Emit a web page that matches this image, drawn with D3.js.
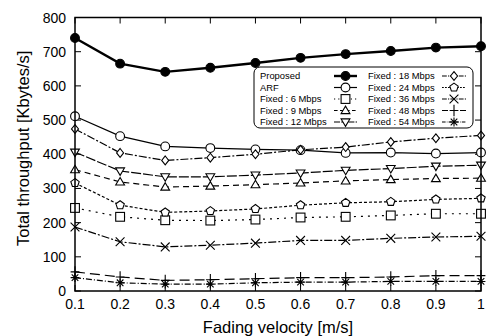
<!DOCTYPE html>
<html><head><meta charset="utf-8">
<script src="https://cdn.jsdelivr.net/npm/d3@7"></script>
<style>body{margin:0;background:#fff}svg{display:block}</style></head>
<body><svg id="c" width="488" height="336"></svg>
<script>
const velocity=[0.1,0.2,0.3,0.4,0.5,0.6,0.7,0.8,0.9,1.0];
const xTickLabels=["0.1","0.2","0.3","0.4","0.5","0.6","0.7","0.8","0.9","1"];
const yTicks=[0,100,200,300,400,500,600,700,800];
const seriesNames=["Proposed","ARF","Fixed : 6 Mbps","Fixed : 9 Mbps","Fixed : 12 Mbps","Fixed : 18 Mbps","Fixed : 24 Mbps","Fixed : 36 Mbps","Fixed : 48 Mbps","Fixed : 54 Mbps"];
const proposed=[740,665,641,653,667,682,693,702,712,716];
const arf=[511,453,423,418,414,412,404,405,402,405];
const fixed6=[243,217,207,206,209,215,217,221,226,226];
const fixed9=[355,319,304,307,311,316,322,326,329,330];
const fixed12=[406,351,334,334,339,345,353,358,365,368];
const fixed18=[474,404,382,390,400,413,421,436,447,455];
const fixed24=[316,251,230,234,240,251,258,261,268,271];
const fixed36=[187,144,129,134,140,148,148,154,158,160];
const fixed48=[56,41,31,33,36,39,39,41,45,45];
const fixed54=[39,24,20,20,24,26,26,28,28,28];

const seriesValues=[proposed,arf,fixed6,fixed9,fixed12,fixed18,fixed24,fixed36,fixed48,fixed54];
const styles=[
 {m:"fcircle",w:2.4,d:null},
 {m:"circle",w:1.2,d:null},
 {m:"square",w:1.2,d:"2,5"},
 {m:"tri",w:1.2,d:"6,4"},
 {m:"itri",w:1.2,d:"10,2"},
 {m:"diamond",w:1.2,d:"8,2,2,2"},
 {m:"pent",w:1.2,d:"3,2"},
 {m:"cross",w:1.2,d:"8,2,2,2"},
 {m:"plus",w:1.2,d:"10,5"},
 {m:"star",w:1.2,d:"6,2,1,2"}
];

const svg=d3.select("#c");
const L=75,R=481,T=17.5,B=291;
const x=d3.scaleLinear().domain([0.1,1]).range([L,R]);
const y=d3.scaleLinear().domain([0,800]).range([B,T]);
const font="'Liberation Sans', Arial, sans-serif";

function marker(g,type,cx,cy){
  const s=4.4;
  let el;
  switch(type){
    case "fcircle": el=g.append("circle").attr("cx",cx).attr("cy",cy).attr("r",s).attr("fill","#000");break;
    case "circle": el=g.append("circle").attr("cx",cx).attr("cy",cy).attr("r",s).attr("fill","#fff");break;
    case "square": el=g.append("rect").attr("x",cx-s).attr("y",cy-s).attr("width",2*s).attr("height",2*s).attr("fill","#fff");break;
    case "tri": el=g.append("path").attr("d",`M${cx},${cy-s}L${cx+s},${cy+s*0.7}L${cx-s},${cy+s*0.7}Z`).attr("fill","#fff");break;
    case "itri": el=g.append("path").attr("d",`M${cx},${cy+s}L${cx+s},${cy-s*0.7}L${cx-s},${cy-s*0.7}Z`).attr("fill","#fff");break;
    case "diamond": el=g.append("path").attr("d",`M${cx},${cy-s}L${cx+s*0.8},${cy}L${cx},${cy+s}L${cx-s*0.8},${cy}Z`).attr("fill","#fff");break;
    case "pent": {
      const pts=d3.range(5).map(i=>{const a=-Math.PI/2+i*2*Math.PI/5;return [cx+s*Math.cos(a),cy+s*Math.sin(a)];});
      el=g.append("path").attr("d","M"+pts.map(p=>p.join(",")).join("L")+"Z").attr("fill","#fff");break;}
    case "cross": el=g.append("path").attr("d",`M${cx-s},${cy-s}L${cx+s},${cy+s}M${cx-s},${cy+s}L${cx+s},${cy-s}`).attr("fill","none");break;
    case "plus": el=g.append("path").attr("d",`M${cx-s},${cy}L${cx+s},${cy}M${cx},${cy-s*1.3}L${cx},${cy+s*1.3}`).attr("fill","none");break;
    case "star": el=g.append("path").attr("d",`M${cx-s},${cy}L${cx+s},${cy}M${cx},${cy-s}L${cx},${cy+s}M${cx-s*0.75},${cy-s*0.75}L${cx+s*0.75},${cy+s*0.75}M${cx-s*0.75},${cy+s*0.75}L${cx+s*0.75},${cy-s*0.75}`).attr("fill","none");break;
  }
  el.attr("stroke","#000").attr("stroke-width",1.1);
}

// ticks (mirrored, inward)
const axes=svg.append("g").attr("stroke","#000").attr("stroke-width",1);
yTicks.forEach(v=>{
  axes.append("line").attr("x1",L).attr("x2",L+6).attr("y1",y(v)).attr("y2",y(v));
  axes.append("line").attr("x1",R).attr("x2",R-6).attr("y1",y(v)).attr("y2",y(v));
});
velocity.forEach(v=>{
  axes.append("line").attr("x1",x(v)).attr("x2",x(v)).attr("y1",B).attr("y2",B-6);
  axes.append("line").attr("x1",x(v)).attr("x2",x(v)).attr("y1",T).attr("y2",T+6);
});

// series
const line=d3.line().x((d,i)=>x(velocity[i])).y(d=>y(d));
seriesValues.forEach((vals,k)=>{
  const st=styles[k];
  const g=svg.append("g");
  g.append("path").attr("d",line(vals)).attr("fill","none").attr("stroke","#000")
   .attr("stroke-width",st.w).attr("stroke-dasharray",st.d);
  vals.forEach((v,i)=>marker(g,st.m,x(velocity[i]),y(v)));
});

// frame
svg.append("rect").attr("x",L).attr("y",T).attr("width",R-L).attr("height",B-T)
  .attr("fill","none").attr("stroke","#000").attr("stroke-width",1.5);

// tick labels
svg.append("g").selectAll("text").data(yTicks).join("text")
  .attr("x",L-9).attr("y",d=>y(d)).attr("dy","0.36em").attr("text-anchor","end")
  .attr("font-family",font).attr("font-size",14).text(d=>d);
svg.append("g").selectAll("text").data(velocity).join("text")
  .attr("x",d=>x(d)).attr("y",B+18).attr("text-anchor","middle")
  .attr("font-family",font).attr("font-size",14).text((d,i)=>xTickLabels[i]);

// axis titles
svg.append("text").attr("x",(L+R)/2).attr("y",333).attr("text-anchor","middle")
  .attr("font-family",font).attr("font-size",16.5).text("Fading velocity [m/s]");
svg.append("text").attr("transform",`translate(29,${(T+B)/2-6}) rotate(-90)`).attr("text-anchor","middle")
  .attr("font-family",font).attr("font-size",16.5).text("Total throughput [Kbytes/s]");

// legend
const lg=svg.append("g");
lg.append("rect").attr("x",254).attr("y",67).attr("width",219).attr("height",61).attr("rx",6)
  .attr("fill","#fff").attr("stroke","#000").attr("stroke-width",1);
seriesNames.forEach((name,k)=>{
  const col=k<5?0:1, row=k%5;
  const ty=76+row*11.5;
  const tx=col?368:260;
  const sx=col?442:334, ex=col?466:357;
  lg.append("text").attr("x",tx).attr("y",ty).attr("dy","0.35em").attr("font-family",font)
    .attr("font-size",9.4).text(name);
  const st=styles[k];
  lg.append("line").attr("x1",sx).attr("x2",ex).attr("y1",ty).attr("y2",ty).attr("stroke","#000")
    .attr("stroke-width",st.w).attr("stroke-dasharray",st.d?st.d.split(",").map(v=>v*0.6).join(","):null);
  marker(lg,st.m,(sx+ex)/2,ty);
});
</script></body></html>
